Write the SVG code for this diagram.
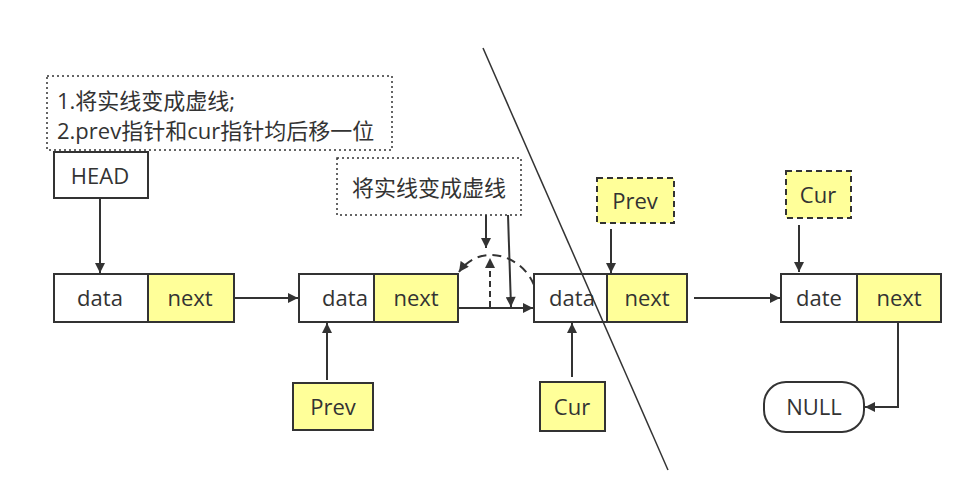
<svg xmlns="http://www.w3.org/2000/svg" width="971" height="504" viewBox="0 0 971 504">
<style>
text{font-family:"Open Sans","Noto Sans CJK SC",sans-serif;font-size:22px;fill:#333;}
.c{text-anchor:middle;dominant-baseline:central;}
.box{fill:#fff;stroke:#333;stroke-width:2;}
.y{fill:#ffff99;stroke:#333;stroke-width:2;}
.dot{fill:#fff;stroke:#333;stroke-width:1.5;stroke-dasharray:2 3;}
.dash{stroke-dasharray:6 4;}
.ln{fill:none;stroke:#333;stroke-width:2;}
</style>
<defs>
<marker id="ah" viewBox="0 0 10 10" refX="10" refY="5" markerWidth="5.5" markerHeight="5" orient="auto" markerUnits="strokeWidth">
<path d="M0,0 L10,5 L0,10 z" fill="#333"/>
</marker>
</defs>
<rect width="971" height="504" fill="#fff"/>
<g id="note1"><rect class="dot" x="47" y="76" width="345" height="74"/>
<text x="57" y="100" dominant-baseline="central">1.将实线变成虚线;</text>
<text x="57" y="130" dominant-baseline="central">2.prev指针和cur指针均后移一位</text></g>
<g id="note2"><rect class="dot" x="337" y="158" width="184" height="57"/>
<text class="c" x="429" y="187">将实线变成虚线</text></g>
<g id="head"><rect class="box" x="54" y="152" width="94" height="46"/><text class="c" x="100" y="175">HEAD</text></g>
<g id="node1"><rect class="box" x="54" y="274" width="94" height="48"/><rect class="y" x="148" y="274" width="86" height="48"/>
<text class="c" x="100" y="297">data</text><text class="c" x="190" y="297">next</text></g>
<g id="node2"><rect class="box" x="299" y="274" width="75" height="48"/><rect class="y" x="374" y="274" width="84" height="48"/>
<text class="c" x="345" y="297">data</text><text class="c" x="416" y="297">next</text></g>
<g id="node3"><rect class="box" x="534" y="274" width="73" height="48"/><rect class="y" x="607" y="274" width="80" height="48"/>
<text class="c" x="572" y="297">data</text><text class="c" x="647" y="297">next</text></g>
<g id="node4"><rect class="box" x="781" y="274" width="76" height="48"/><rect class="y" x="857" y="274" width="84" height="48"/>
<text class="c" x="819" y="297">date</text><text class="c" x="899" y="297">next</text></g>
<g id="prev2"><rect class="y dash" x="597" y="178" width="77" height="45"/><text class="c" x="635" y="200">Prev</text></g>
<g id="cur2"><rect class="y dash" x="786" y="171" width="65" height="47"/><text class="c" x="818" y="194">Cur</text></g>
<g id="prev1"><rect class="y" x="293" y="383" width="80" height="47"/><text class="c" x="333" y="406">Prev</text></g>
<g id="cur1"><rect class="y" x="540" y="382" width="65" height="49"/><text class="c" x="572" y="406">Cur</text></g>
<g id="null"><rect class="box" x="764" y="382" width="100" height="50" rx="22"/><text class="c" x="814" y="406">NULL</text></g>
<g id="connectors">
<line class="ln" x1="100" y1="198" x2="100" y2="273" marker-end="url(#ah)"/>
<line class="ln" x1="234" y1="298" x2="298" y2="298" marker-end="url(#ah)"/>
<line class="ln" x1="458" y1="308" x2="533" y2="308" marker-end="url(#ah)"/>
<line class="ln" x1="694" y1="298" x2="780" y2="298" marker-end="url(#ah)"/>
<line class="ln" x1="486" y1="215" x2="486" y2="248" marker-end="url(#ah)"/>
<line class="ln" x1="508" y1="215" x2="511" y2="307" marker-end="url(#ah)"/>
<line class="ln dash" x1="490" y1="307" x2="490" y2="258" marker-end="url(#ah)"/>
<path class="ln" d="M534 285 C522 255 480 242 459 272" stroke-dasharray="9 6" marker-end="url(#ah)"/>
<line class="ln" x1="611" y1="229" x2="611" y2="273" marker-end="url(#ah)"/>
<line class="ln" x1="799" y1="225" x2="799" y2="272" marker-end="url(#ah)"/>
<line class="ln" x1="327" y1="380" x2="327" y2="323" marker-end="url(#ah)"/>
<line class="ln" x1="572" y1="377" x2="572" y2="323" marker-end="url(#ah)"/>
<polyline class="ln" points="898,322 898,407 865,407" marker-end="url(#ah)"/>
</g>
<line x1="483" y1="48" x2="668" y2="470" stroke="#333" stroke-width="1.5"/>
</svg>
